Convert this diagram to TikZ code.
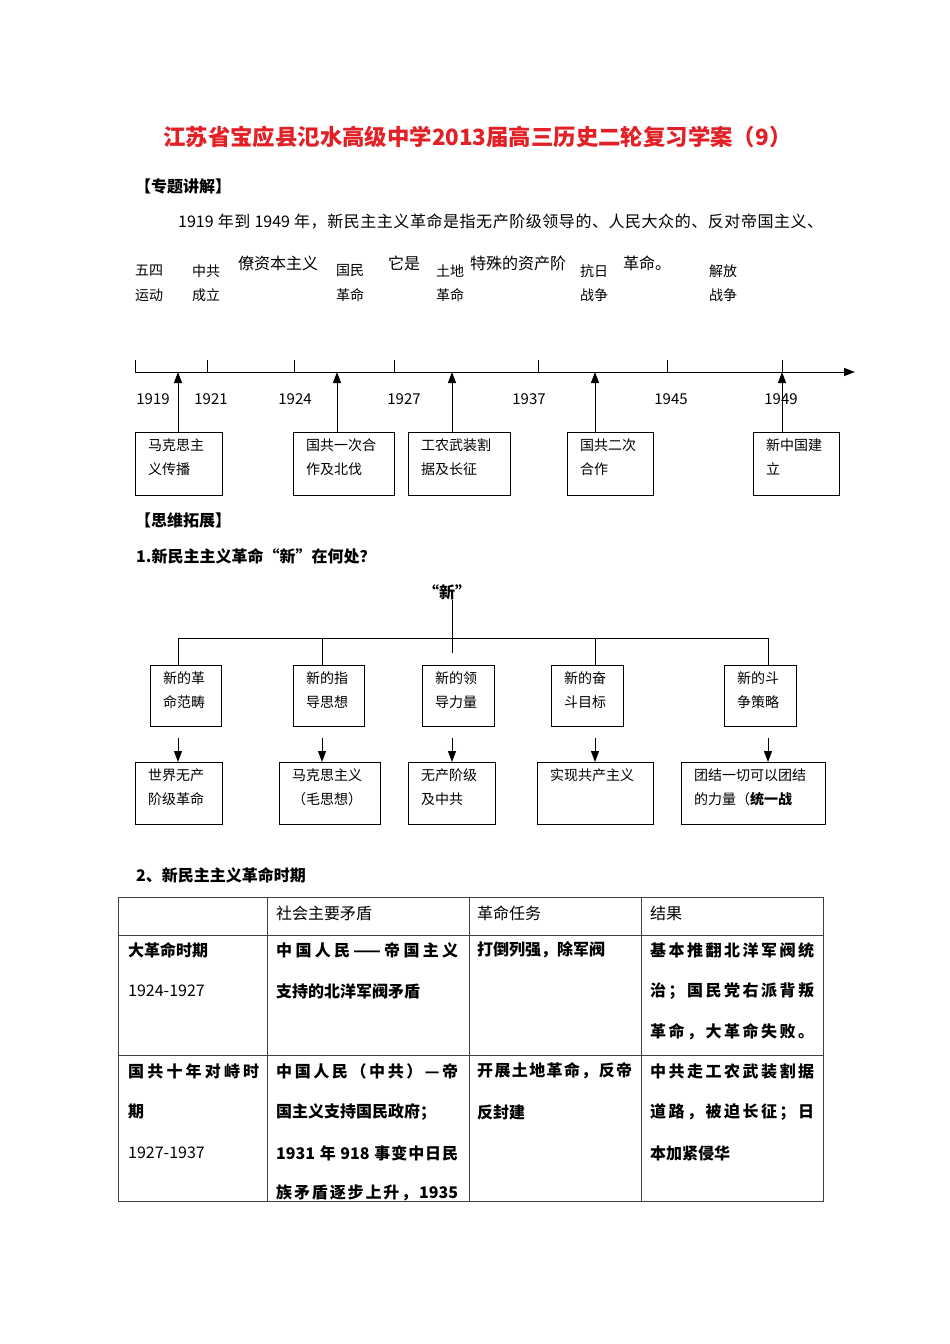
\documentclass[tikz,border=0pt]{standalone}
\usepackage{fontspec}
\setmainfont{Noto Sans CJK SC}
\usetikzlibrary{arrows.meta,calc}
\definecolor{titlered}{RGB}{226,32,38}
\makeatletter
\def\jl@endmark{\jl@end}
\def\jl@loop#1{\def\jl@tmp{#1}\ifx\jl@tmp\jl@endmark\else\hfil#1\expandafter\jl@loop\fi}
\def\jl@first#1{#1\jl@loop}
\newcommand{\jl}[2]{\hbox to #1pt{\jl@first#2\jl@end}}
\makeatother
\tikzset{
 txt/.style={inner sep=0pt, anchor=west, font=\fontsize{14}{16}\selectfont},
 ptxt/.style={inner sep=0pt, anchor=west, font=\fontsize{16}{18}\selectfont},
 btxt/.style={inner sep=0pt, anchor=west, font=\fontsize{16}{18}\selectfont\bfseries},
 frame/.style={draw, line width=1.1pt, anchor=north west, inner sep=0pt},
 conn/.style={line width=1pt},
 arr/.style={line width=1pt, -{Triangle[length=11pt,width=8pt]}},
 grid/.style={line width=0.7pt, draw=black!75},
 year/.style={inner sep=0pt, font=\fontsize{15}{17}\selectfont},
}
\newcommand{\fbx}[7]{%
 \node[frame, minimum width=#4pt, minimum height=#5pt] (#1) at (#2,#3) {};
 \node[txt] (#1a) at ($(#1.north west)+(13,13)$) {#6};
 \node[txt] (#1b) at ($(#1.north west)+(13,37)$) {#7};
}
\begin{document}
\begin{tikzpicture}[x=1pt,y=-1pt]
\path[use as bounding box, fill=white] (0,0) rectangle (950,1344);

% title and intro
\node[inner sep=0pt, anchor=west, font=\fontsize{22.4}{26}\selectfont\bfseries, text=titlered] (title) at (163,137) {江苏省宝应县氾水高级中学2013届高三历史二轮复习学案（9）};
\node[btxt] (h1) at (135,186) {【专题讲解】};
\node[ptxt] (p1) at (178,222) {\jl{645}{{1919 }年到{ 1949 }年，新民主主义革命是指无产阶级领导的、人民大众的、反对帝国主义、}};
\node[ptxt] (f1) at (238,263) {僚资本主义};
\node[ptxt] (f2) at (388,263) {它是};
\node[ptxt] (f3) at (470,263) {特殊的资产阶};
\node[ptxt] (f4) at (623,263) {革命。};

% timeline labels
\node[txt] (l1a) at (135,271) {五四}; \node[txt] (l1b) at (135,295) {运动};
\node[txt] (l2a) at (192,271) {中共}; \node[txt] (l2b) at (192,295) {成立};
\node[txt] (l3a) at (336,271) {国民}; \node[txt] (l3b) at (336,295) {革命};
\node[txt] (l4a) at (436,271) {土地}; \node[txt] (l4b) at (436,295) {革命};
\node[txt] (l5a) at (580,271) {抗日}; \node[txt] (l5b) at (580,295) {战争};
\node[txt] (l6a) at (709,271) {解放}; \node[txt] (l6b) at (709,295) {战争};

% axis
\coordinate (ax0) at (135,372);
\coordinate (ax1) at (855,372);
\draw[arr] (ax0) -- (ax1);
\foreach \x in {135,207,294,394,538,667,782} \draw[conn] (\x,360) -- (\x,372);
\node[year] (y1) at (153,399) {1919};
\node[year] (y2) at (211,399) {1921};
\node[year] (y3) at (295,399) {1924};
\node[year] (y4) at (404,399) {1927};
\node[year] (y5) at (529,399) {1937};
\node[year] (y6) at (671,399) {1945};
\node[year] (y7) at (781,399) {1949};

% timeline boxes
\fbx{tb1}{135}{432}{87}{63}{马克思主}{义传播}
\fbx{tb2}{293}{432}{101}{63}{国共一次合}{作及北伐}
\fbx{tb3}{408}{432}{102}{63}{工农武装割}{据及长征}
\fbx{tb4}{567}{432}{86}{63}{国共二次}{合作}
\fbx{tb5}{753}{432}{86}{63}{新中国建}{立}
\coordinate (ta1) at (178,372);
\coordinate (ta2) at (337,372);
\coordinate (ta3) at (452,372);
\coordinate (ta4) at (595,372);
\coordinate (ta5) at (782,372);
\draw[arr] (tb1.north -| ta1) -- (ta1);
\draw[arr] (tb2.north -| ta2) -- (ta2);
\draw[arr] (tb3.north -| ta3) -- (ta3);
\draw[arr] (tb4.north -| ta4) -- (ta4);
\draw[arr] (tb5.north -| ta5) -- (ta5);

% section 2: tree
\node[btxt] (h2) at (135,520) {【思维拓展】};
\node[btxt] (q1) at (136,556) {1.新民主主义革命“新”在何处？};
\node[inner sep=0pt, font=\fontsize{16}{18}\selectfont\bfseries] (xin) at (447,592) {“新”};
\coordinate (hub) at (452,638);
\coordinate (stem) at (452,653);
\draw[conn] (xin.south -| hub) -- (stem);
\coordinate (d1) at (178,638);
\coordinate (d2) at (322,638);
\coordinate (d4) at (595,638);
\coordinate (d5) at (768,638);
\draw[conn] (d1) -- (d5);

\fbx{r1}{150}{665}{71}{61}{新的革}{命范畴}
\fbx{r2}{293}{665}{71}{61}{新的指}{导思想}
\fbx{r3}{422}{665}{72}{61}{新的领}{导力量}
\fbx{r4}{551}{665}{72}{61}{新的奋}{斗目标}
\fbx{r5}{724}{665}{72}{61}{新的斗}{争策略}
\draw[conn] (d1) -- (d1 |- r1.north);
\draw[conn] (d2) -- (d2 |- r2.north);
\draw[conn] (d4) -- (d4 |- r4.north);
\draw[conn] (d5) -- (d5 |- r5.north);

\fbx{s1}{135}{762}{87}{62}{世界无产}{阶级革命}
\fbx{s2}{279}{762}{101}{62}{马克思主义}{（毛思想）}
\fbx{s3}{408}{762}{87}{62}{无产阶级}{及中共}
\fbx{s4}{537}{762}{116}{62}{实现共产主义}{}
\fbx{s5}{681}{762}{144}{62}{团结一切可以团结}{的力量（\textbf{统一战}}
\coordinate (a1) at (178,738);
\coordinate (a2) at (322,738);
\coordinate (a3) at (452,738);
\coordinate (a4) at (595,738);
\coordinate (a5) at (768,738);
\draw[arr] (a1) -- (a1 |- s1.north);
\draw[arr] (a2) -- (a2 |- s2.north);
\draw[arr] (a3) -- (a3 |- s3.north);
\draw[arr] (a4) -- (a4 |- s4.north);
\draw[arr] (a5) -- (a5 |- s5.north);

% section 3: table
\node[btxt] (h3) at (136,875) {2、新民主主义革命时期};
\draw[grid] (118,897) rectangle (823,1201);
\draw[grid] (267,897) -- (267,1201);
\draw[grid] (469,897) -- (469,1201);
\draw[grid] (641,897) -- (641,1201);
\draw[grid] (118,935) -- (823,935);
\draw[grid] (118,1055) -- (823,1055);

\node[ptxt] (c2h) at (276,913) {社会主要矛盾};
\node[ptxt] (c3h) at (477,913) {革命任务};
\node[ptxt] (c4h) at (650,913) {结果};

\node[btxt] (r1c1a) at (128,950) {大革命时期};
\node[ptxt] (r1c1b) at (128,991) {1924-1927};
\node[btxt] (r1c2a) at (276,950) {\jl{182}{中国人民{——}帝国主义}};
\node[btxt] (r1c2b) at (276,991) {支持的北洋军阀矛盾};
\node[btxt] (r1c3a) at (477,950) {打倒列强，除军阀};
\node[btxt] (r1c4a) at (650,950) {\jl{164}{基本推翻北洋军阀统}};
\node[btxt] (r1c4b) at (650,991) {\jl{164}{治；国民党右派背叛}};
\node[btxt] (r1c4c) at (650,1032) {\jl{164}{革命，大革命失败。}};

\node[btxt] (r2c1a) at (128,1071) {\jl{131}{国共十年对峙时}};
\node[btxt] (r2c1b) at (128,1112) {期};
\node[ptxt] (r2c1c) at (128,1153) {1927-1937};
\node[btxt] (r2c2a) at (276,1071) {\jl{182}{中国人民（中共）—帝}};
\node[btxt] (r2c2b) at (276,1112) {国主义支持国民政府；};
\node[btxt] (r2c2c) at (276,1153) {\jl{182}{{1931 }年{ 918 }事变中日民}};
\node[btxt] (r2c2d) at (276,1193) {\jl{182}{族矛盾逐步上升，{1935}}};
\node[btxt] (r2c3a) at (477,1071) {\jl{155}{开展土地革命，反帝}};
\node[btxt] (r2c3b) at (477,1112) {反封建};
\node[btxt] (r2c4a) at (650,1071) {\jl{164}{中共走工农武装割据}};
\node[btxt] (r2c4b) at (650,1112) {\jl{164}{道路，被迫长征；日}};
\node[btxt] (r2c4c) at (650,1153) {本加紧侵华};
\end{tikzpicture}
\end{document}
